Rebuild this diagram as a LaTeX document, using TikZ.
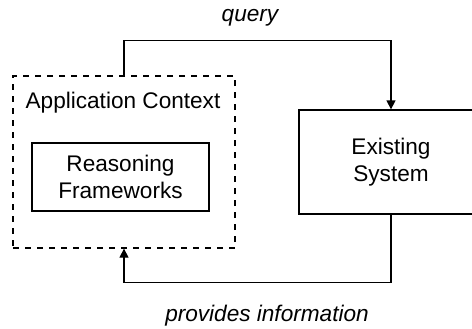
\documentclass[tikz,border=0pt]{standalone}
\usepackage{fontspec}
\setmainfont{Liberation Sans}
\usetikzlibrary{arrows.meta, positioning}

\begin{document}
\begin{tikzpicture}[
    x=0.5pt, y=-0.5pt,
    font=\fontsize{11.3}{13.5}\selectfont,
    box/.style={draw, line width=0.65pt, align=center, inner sep=0pt},
    flow/.style={line width=0.65pt, -{Triangle[length=4.5pt, width=4.5pt]}}
]
    \useasboundingbox (0,0) rectangle (472,328);

    % containers
    \node[box, dashed, minimum width=111pt, minimum height=86pt] (ctx) at (124,162) {};
    \node (ctxlabel) at (123,103) {Application Context};
    \node[box, minimum width=88.5pt, minimum height=34pt] (rf) at (120.5,177) {Reasoning\\Frameworks};
    \node[box, minimum width=92pt, minimum height=52pt] (es) at (391,162) {Existing\\System};

    % connectors
    \draw[flow] (ctx.north) -- ++(0,-35) -| (es.north);
    \draw[flow] (es.south) -- ++(0,68) -| (ctx.south);

    \node[font=\fontsize{11.3}{13.5}\selectfont\itshape] (qlabel) at (250,18) {query};
    \node[font=\fontsize{11.3}{13.5}\selectfont\itshape] (plabel) at (267,316) {provides information};
\end{tikzpicture}
\end{document}
